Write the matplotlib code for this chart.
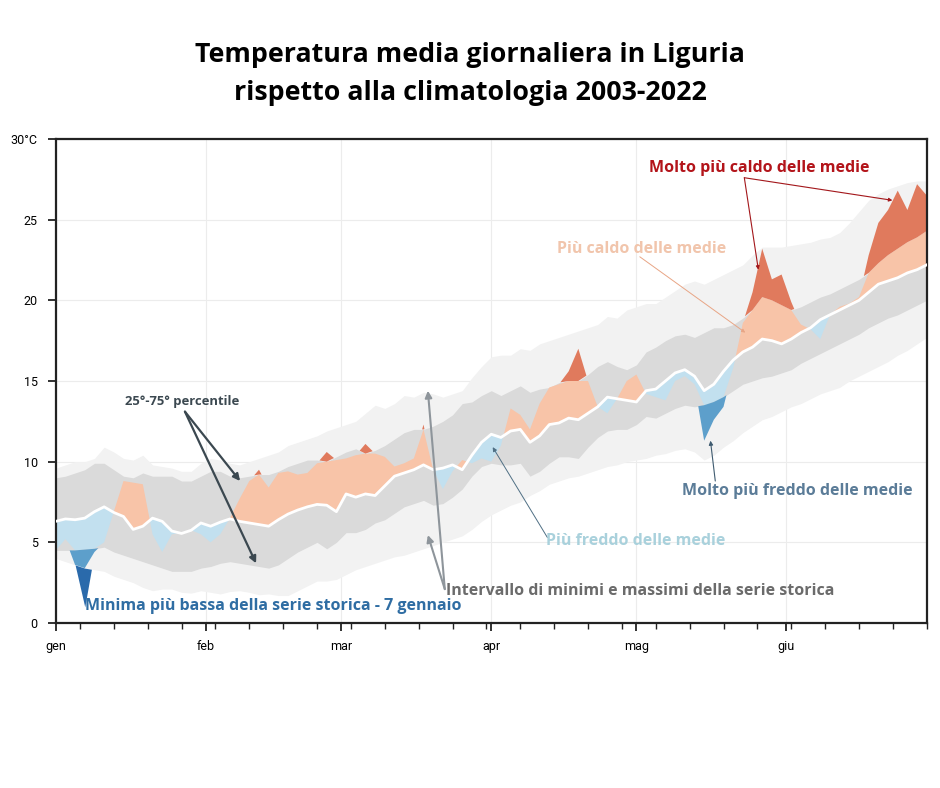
import numpy as np
import matplotlib.pyplot as plt

plt.rcParams['font.family'] = ['Open Sans', 'DejaVu Sans']

# giorni dal 1 gennaio, un valore ogni 2 giorni
days = np.arange(0, 181, 2)

clim_mean = [6.3, 6.45, 6.4, 6.5, 6.9, 7.2, 6.85, 6.6, 5.8, 6.0,
             6.5, 6.3, 5.7, 5.55, 5.75, 6.2, 6.0, 6.25, 6.45, 6.3,
             6.2, 6.1, 6.0, 6.4, 6.75, 7.0, 7.2, 7.35, 7.3, 6.9,
             8.0, 7.8, 8.0, 7.9, 8.5, 9.1, 9.3, 9.5, 9.8, 9.5,
             9.6, 9.8, 9.5, 10.4, 11.2, 11.7, 11.5, 11.9, 12.0, 11.2,
             11.6, 12.3, 12.4, 12.7, 12.6, 13.0, 13.4, 14.0, 13.9, 13.8,
             13.7, 14.4, 14.5, 15.0, 15.5, 15.7, 15.3, 14.4, 14.8, 15.6,
             16.3, 16.8, 17.1, 17.6, 17.5, 17.3, 17.6, 18.0, 18.3, 18.8,
             19.1, 19.4, 19.7, 20.0, 20.5, 21.0, 21.2, 21.4, 21.7, 21.9,
             22.2]

clim_p75 = [9.0, 9.1, 9.3, 9.5, 9.9, 9.9, 9.5, 9.1, 9.0, 9.3,
            9.1, 9.1, 9.1, 8.8, 8.8, 9.1, 9.4, 9.4, 9.1, 9.0,
            9.1, 9.2, 9.2, 9.4, 9.7, 9.9, 10.1, 10.1, 10.0, 10.3,
            10.6, 10.8, 10.5, 10.7, 11.0, 11.4, 11.8, 12.0, 12.0, 12.2,
            12.5, 12.9, 13.6, 13.7, 14.1, 14.4, 14.1, 14.4, 14.7, 14.3,
            14.5, 14.6, 14.9, 15.0, 15.0, 15.4, 15.9, 16.2, 15.9, 15.7,
            16.0, 16.8, 17.1, 17.5, 17.8, 17.9, 17.7, 18.0, 18.3, 18.3,
            18.5, 18.9, 19.4, 20.2, 20.0, 19.7, 19.4, 19.6, 19.9, 20.2,
            20.4, 20.7, 21.0, 21.3, 21.7, 22.3, 22.8, 23.2, 23.6, 23.9,
            24.3]

clim_max = [9.6, 9.8, 10.0, 10.0, 10.2, 10.9, 10.6, 10.2, 10.1, 10.4,
            9.8, 9.7, 9.6, 9.4, 9.4, 9.9, 10.2, 10.1, 9.9, 9.8,
            10.0, 10.2, 10.4, 10.6, 11.0, 11.2, 11.4, 11.6, 11.9, 12.1,
            12.3, 12.5, 13.0, 13.5, 13.3, 13.6, 14.1, 14.0, 14.3, 14.2,
            14.0, 14.2, 14.4, 15.2, 15.9, 16.5, 16.6, 16.6, 17.0, 16.9,
            17.3, 17.5, 17.7, 17.9, 18.1, 18.3, 18.5, 19.0, 18.9, 19.4,
            19.6, 19.8, 19.8, 20.2, 20.6, 21.0, 21.2, 21.0, 21.3, 21.6,
            21.9, 22.2, 22.8, 23.3, 23.3, 23.3, 23.4, 23.5, 23.6, 23.8,
            23.9, 24.2, 24.8, 25.5, 26.2, 26.6, 26.9, 27.1, 27.3, 27.4,
            27.4]

clim_p25 = [4.5, 4.5, 4.5, 4.55, 4.6, 4.7, 4.4, 4.2, 4.0, 3.8,
            3.6, 3.4, 3.2, 3.2, 3.2, 3.4, 3.5, 3.7, 3.8, 3.7,
            3.6, 3.5, 3.4, 3.6, 4.0, 4.4, 4.7, 5.0, 4.6, 5.0,
            5.6, 5.6, 5.8, 6.2, 6.4, 6.8, 7.2, 7.4, 7.6, 7.3,
            7.4, 7.8, 8.3, 9.1, 9.7, 9.9, 9.8, 9.8, 9.9, 9.1,
            9.4, 9.9, 10.3, 10.3, 10.2, 10.9, 11.5, 11.9, 12.0, 12.0,
            12.3, 12.8, 12.7, 13.0, 13.3, 13.5, 13.4, 13.5, 13.7, 14.0,
            14.4, 14.8, 15.0, 15.2, 15.3, 15.5, 15.7, 16.1, 16.4, 16.7,
            17.0, 17.3, 17.6, 17.9, 18.3, 18.6, 18.9, 19.1, 19.4, 19.7,
            20.0]

clim_min = [4.0, 3.8, 3.6, 3.4, 3.3, 3.2, 2.9, 2.7, 2.5, 2.2,
            2.0, 2.1, 2.1, 1.9, 1.85, 2.0, 1.9, 1.8, 1.95, 2.0,
            1.9, 1.75, 1.8, 1.7, 1.7, 2.0, 2.3, 2.6, 2.6, 2.7,
            3.0, 3.3, 3.5, 3.7, 3.9, 4.1, 4.2, 4.4, 4.6, 4.8,
            5.0, 5.2, 5.4, 5.8, 6.3, 6.7, 7.0, 7.3, 7.5, 7.9,
            8.2, 8.6, 8.8, 9.0, 9.1, 9.3, 9.5, 9.7, 9.8, 10.0,
            10.1, 10.2, 10.4, 10.5, 10.7, 10.8, 10.6, 10.1, 10.4, 10.9,
            11.3, 11.8, 12.2, 12.6, 12.8, 13.1, 13.4, 13.6, 13.9, 14.2,
            14.4, 14.6, 15.0, 15.3, 15.6, 15.9, 16.2, 16.6, 16.9, 17.3,
            17.7]

temp_2023 = [4.5, 5.2, 3.6, 1.0, 4.4, 5.0, 6.9, 8.8, 8.7, 8.6,
             5.5, 4.4, 5.5, 5.6, 5.75, 5.5, 5.0, 5.5, 6.5, 7.7,
             8.8, 9.5, 8.4, 9.3, 9.4, 9.2, 9.3, 9.9, 10.6, 10.1,
             10.2, 10.4, 11.1, 10.5, 10.3, 9.7, 9.9, 10.2, 12.3, 9.5,
             8.3, 9.4, 10.1, 9.9, 10.2, 10.0, 11.0, 13.3, 12.9, 12.0,
             13.6, 14.6, 14.8, 15.6, 17.0, 15.0, 13.4, 13.0, 13.9, 15.0,
             15.4, 14.2, 14.0, 13.8, 15.0, 15.3, 14.8, 11.3, 12.6, 13.4,
             15.8, 18.6, 20.5, 23.2, 21.3, 21.6, 19.9, 18.5, 18.2, 17.6,
             19.1, 19.6, 19.8, 20.2, 22.8, 24.8, 25.6, 26.8, 25.6, 27.2,
             26.5]

month_days = [0, 31, 59, 90, 120, 151]
month_labels = ['gen', 'feb', 'mar', 'apr', 'mag', 'giu']
week_days = list(range(5, 181, 7))
y_ticks = [0, 5, 10, 15, 20, 25, 30]
y_labels = ['0', '5', '10', '15', '20', '25', '30°C']

mean = np.array(clim_mean)
p25, p75 = np.array(clim_p25), np.array(clim_p75)
lo, hi = np.array(clim_min), np.array(clim_max)
obs = np.array(temp_2023)

fig = plt.figure(figsize=(9.4, 7.88), dpi=100)
ax = fig.add_axes([0.0593, 0.2094, 0.9266, 0.6142])

# bande climatologiche
ax.fill_between(days, lo, hi, color='#f2f2f2', lw=0, zorder=1)
ax.fill_between(days, p25, p75, color='#dadada', lw=0, zorder=1.5)

# anomalie calde
ax.fill_between(days, mean, np.minimum(obs, p75), where=obs > mean,
                interpolate=True, color='#f8c4a8', lw=0, zorder=2)
ax.fill_between(days, p75, obs, where=obs > p75,
                interpolate=True, color='#e07a5d', lw=0, zorder=2)
# anomalie fredde
ax.fill_between(days, mean, np.maximum(obs, p25), where=obs < mean,
                interpolate=True, color='#c2e0ef', lw=0, zorder=2)
ax.fill_between(days, p25, np.maximum(obs, lo), where=obs < p25,
                interpolate=True, color='#5d9fcb', lw=0, zorder=2)
ax.fill_between(days, lo, obs, where=obs < lo,
                interpolate=True, color='#2a6aab', lw=0, zorder=2)

ax.plot(days, mean, color='white', lw=2, zorder=3)

ax.set_xlim(0, 180)
ax.set_ylim(0, 30)
ax.set_xticks(month_days)
ax.set_xticklabels(month_labels, fontfamily='Roboto', fontsize=9)
ax.set_xticks(week_days, minor=True)
ax.set_yticks(y_ticks)
ax.set_yticklabels(y_labels, fontfamily='Roboto', fontsize=9)
ax.tick_params(axis='both', which='major', length=6, width=1.3, color='#222222')
ax.tick_params(axis='x', which='minor', length=4, width=1.0, color='#222222')
ax.tick_params(axis='x', pad=6)
ax.tick_params(axis='y', pad=7)
ax.grid(True, color='#ececec', lw=0.8)
ax.set_axisbelow(True)
for sp in ax.spines.values():
    sp.set_color('#222222')
    sp.set_linewidth(1.6)

fig.text(0.5, 1 - 74 / 788,
         'Temperatura media giornaliera in Liguria\nrispetto alla climatologia 2003-2022',
         ha='center', va='center', fontsize=19.3, fontweight='bold',
         linespacing=1.6, color='black')


def arrow(tip, start, color, lw=1.2, scale=10):
    ax.annotate('', xy=tip, xytext=start, zorder=6,
                arrowprops=dict(arrowstyle='-|>', color=color, lw=lw,
                                mutation_scale=scale, shrinkA=0, shrinkB=0))


# annotazioni
ax.text(26.1, 13.7, '25°-75° percentile', fontsize=9.4, fontweight='bold',
        color='#3b4850', ha='center', va='center', zorder=7)
arrow((38.1, 8.8), (26.7, 13.1), '#3b4850', lw=1.6)
arrow((41.4, 3.7), (26.7, 13.1), '#3b4850', lw=1.6)

ax.text(6.0, 1.05, 'Minima più bassa della serie storica - 7 gennaio',
        fontsize=11.5, fontweight='bold', color='#2f6da3', ha='left',
        va='center', zorder=7)

ax.text(80.6, 2.0, 'Intervallo di minimi e massimi della serie storica',
        fontsize=11.5, fontweight='bold', color='#6b6b6b', ha='left',
        va='center', zorder=7)
arrow((76.9, 14.4), (80.4, 2.1), '#8e959b', lw=1.5)
arrow((76.9, 5.45), (80.4, 2.1), '#8e959b', lw=1.5)

ax.text(101.4, 5.1, 'Più freddo delle medie', fontsize=11.5,
        fontweight='bold', color='#a9d1dc', ha='left', va='center', zorder=7)
arrow((90.3, 10.9), (101.6, 5.3), '#4f6f84', lw=0.7, scale=6)

ax.text(129.5, 8.2, 'Molto più freddo delle medie', fontsize=11.5,
        fontweight='bold', color='#5b7c98', ha='left', va='center', zorder=7)
arrow((135.3, 11.3), (136.3, 8.8), '#3f5b70', lw=0.8, scale=6)

ax.text(103.5, 23.2, 'Più caldo delle medie', fontsize=11.5,
        fontweight='bold', color='#f1c5ac', ha='left', va='center', zorder=7)
arrow((142.5, 18.0), (120.7, 22.7), '#e8a585', lw=0.7, scale=5)

ax.text(122.7, 28.2, 'Molto più caldo delle medie', fontsize=11.5,
        fontweight='bold', color='#b3141a', ha='left', va='center', zorder=7)
arrow((145.2, 21.9), (142.3, 27.6), '#a3171b', lw=0.8, scale=5)
arrow((172.9, 26.2), (142.3, 27.6), '#a3171b', lw=0.8, scale=5)

fig.savefig('out.png', dpi=100, facecolor='white')
